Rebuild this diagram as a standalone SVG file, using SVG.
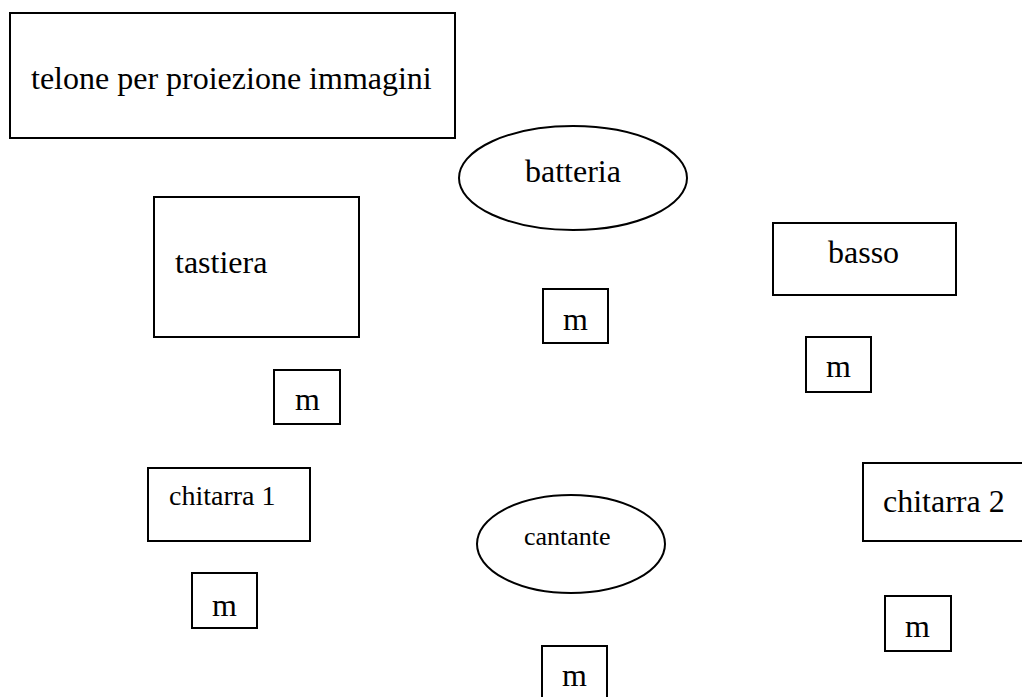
<svg xmlns="http://www.w3.org/2000/svg" width="1022" height="697" viewBox="0 0 1022 697">
<style>
.s{fill:#fff;stroke:#000;stroke-width:2}
.t{font-family:"Liberation Serif","Times New Roman",serif;fill:#000;font-size:32px}
</style>
<rect width="1022" height="697" fill="#fff"/>
<g id="telone"><rect class="s" x="10" y="13" width="445" height="125"/><text class="t" x="31" y="89">telone per proiezione immagini</text></g>
<g id="batteria"><ellipse class="s" cx="573" cy="178" rx="114" ry="52"/><text class="t" x="525" y="182">batteria</text></g>
<g id="tastiera"><rect class="s" x="154" y="197" width="205" height="140"/><text class="t" x="175" y="273">tastiera</text></g>
<g id="basso"><rect class="s" x="773" y="223" width="183" height="72"/><text class="t" x="828" y="263">basso</text></g>
<g id="m-batteria"><rect class="s" x="543" y="289" width="65" height="54"/><text class="t" x="563" y="330">m</text></g>
<g id="m-basso"><rect class="s" x="806" y="337" width="65" height="55"/><text class="t" x="826" y="377">m</text></g>
<g id="m-tastiera"><rect class="s" x="274" y="370" width="66" height="54"/><text class="t" x="295" y="410">m</text></g>
<g id="chitarra1"><rect class="s" x="148" y="468" width="162" height="73"/><text class="t" x="169" y="505" style="font-size:28px">chitarra 1</text></g>
<g id="chitarra2"><rect class="s" x="863" y="463" width="170" height="78"/><text class="t" x="883" y="512">chitarra 2</text></g>
<g id="cantante"><ellipse class="s" cx="571" cy="544" rx="94" ry="49"/><text class="t" x="524" y="545" style="font-size:26px">cantante</text></g>
<g id="m-chitarra1"><rect class="s" x="192" y="573" width="65" height="55"/><text class="t" x="212" y="616">m</text></g>
<g id="m-chitarra2"><rect class="s" x="885" y="596" width="66" height="55"/><text class="t" x="905" y="637">m</text></g>
<g id="m-cantante"><rect class="s" x="542" y="646" width="65" height="60"/><text class="t" x="562" y="686">m</text></g>
<g id="connectors"></g>
</svg>
